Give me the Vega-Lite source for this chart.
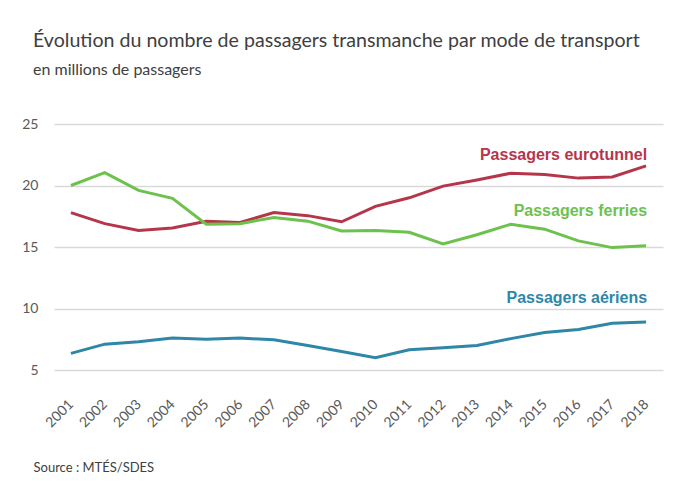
{
  "$schema": "https://vega.github.io/schema/vega-lite/v6.json",
  "width": 609,
  "height": 246,
  "autosize": {"type": "none"},
  "padding": {"top": 124, "left": 54, "right": 10, "bottom": 116},
  "background": "white",
  "title": {
    "text": "Évolution du nombre de passagers transmanche par mode de transport",
    "subtitle": "en millions de passagers",
    "anchor": "start",
    "frame": "group",
    "dx": -21,
    "offset": 38,
    "font": "Lato",
    "fontSize": 19.6,
    "fontWeight": "normal",
    "color": "#404040",
    "subtitleFont": "Lato",
    "subtitleFontSize": 16,
    "subtitleColor": "#404040",
    "subtitlePadding": 10
  },
  "config": {
    "view": {"stroke": null},
    "font": "Lato"
  },
  "data": {
    "values": [
      {"year": "2001", "mode": "eurotunnel", "value": 17.8},
      {"year": "2002", "mode": "eurotunnel", "value": 16.9},
      {"year": "2003", "mode": "eurotunnel", "value": 16.35},
      {"year": "2004", "mode": "eurotunnel", "value": 16.55},
      {"year": "2005", "mode": "eurotunnel", "value": 17.1},
      {"year": "2006", "mode": "eurotunnel", "value": 17.0},
      {"year": "2007", "mode": "eurotunnel", "value": 17.8},
      {"year": "2008", "mode": "eurotunnel", "value": 17.55},
      {"year": "2009", "mode": "eurotunnel", "value": 17.05},
      {"year": "2010", "mode": "eurotunnel", "value": 18.3},
      {"year": "2011", "mode": "eurotunnel", "value": 19.0},
      {"year": "2012", "mode": "eurotunnel", "value": 19.95},
      {"year": "2013", "mode": "eurotunnel", "value": 20.45},
      {"year": "2014", "mode": "eurotunnel", "value": 21.0},
      {"year": "2015", "mode": "eurotunnel", "value": 20.9},
      {"year": "2016", "mode": "eurotunnel", "value": 20.6},
      {"year": "2017", "mode": "eurotunnel", "value": 20.7},
      {"year": "2018", "mode": "eurotunnel", "value": 21.6},
      {"year": "2001", "mode": "ferries", "value": 20.0},
      {"year": "2002", "mode": "ferries", "value": 21.05},
      {"year": "2003", "mode": "ferries", "value": 19.6},
      {"year": "2004", "mode": "ferries", "value": 18.95},
      {"year": "2005", "mode": "ferries", "value": 16.85},
      {"year": "2006", "mode": "ferries", "value": 16.9},
      {"year": "2007", "mode": "ferries", "value": 17.4},
      {"year": "2008", "mode": "ferries", "value": 17.1},
      {"year": "2009", "mode": "ferries", "value": 16.3},
      {"year": "2010", "mode": "ferries", "value": 16.35},
      {"year": "2011", "mode": "ferries", "value": 16.2},
      {"year": "2012", "mode": "ferries", "value": 15.25},
      {"year": "2013", "mode": "ferries", "value": 16.0},
      {"year": "2014", "mode": "ferries", "value": 16.85},
      {"year": "2015", "mode": "ferries", "value": 16.45},
      {"year": "2016", "mode": "ferries", "value": 15.5},
      {"year": "2017", "mode": "ferries", "value": 14.95},
      {"year": "2018", "mode": "ferries", "value": 15.1},
      {"year": "2001", "mode": "aeriens", "value": 6.35},
      {"year": "2002", "mode": "aeriens", "value": 7.1},
      {"year": "2003", "mode": "aeriens", "value": 7.3},
      {"year": "2004", "mode": "aeriens", "value": 7.6},
      {"year": "2005", "mode": "aeriens", "value": 7.5},
      {"year": "2006", "mode": "aeriens", "value": 7.6},
      {"year": "2007", "mode": "aeriens", "value": 7.45},
      {"year": "2008", "mode": "aeriens", "value": 7.0},
      {"year": "2009", "mode": "aeriens", "value": 6.5},
      {"year": "2010", "mode": "aeriens", "value": 6.0},
      {"year": "2011", "mode": "aeriens", "value": 6.65},
      {"year": "2012", "mode": "aeriens", "value": 6.8},
      {"year": "2013", "mode": "aeriens", "value": 7.0},
      {"year": "2014", "mode": "aeriens", "value": 7.55},
      {"year": "2015", "mode": "aeriens", "value": 8.05},
      {"year": "2016", "mode": "aeriens", "value": 8.3},
      {"year": "2017", "mode": "aeriens", "value": 8.8},
      {"year": "2018", "mode": "aeriens", "value": 8.9}
    ]
  },
  "encoding": {
    "x": {
      "field": "year",
      "type": "ordinal",
      "scale": {"type": "point", "padding": 0.5},
      "axis": {
        "title": "Source : MTÉS/SDES",
        "titleFont": "Lato",
        "titleFontSize": 13,
        "titleFontWeight": "normal",
        "titleColor": "#404040",
        "titleAnchor": "start",
        "titleAlign": "left",
        "titleBaseline": "alphabetic",
        "titleX": -21,
        "titleY": 101,
        "labelAngle": -45,
        "labelAlign": "right",
        "labelBaseline": "middle",
        "labelPadding": 32,
        "labelFontSize": 14,
        "labelColor": "#595959",
        "labelFont": "Lato",
        "domain": false,
        "ticks": false,
        "grid": false
      }
    },
    "y": {
      "field": "value",
      "type": "quantitative",
      "scale": {"domain": [5, 25], "nice": false, "zero": false},
      "axis": {
        "title": null,
        "values": [5, 10, 15, 20, 25],
        "domain": false,
        "ticks": false,
        "grid": true,
        "gridColor": "#D9D9D9",
        "gridWidth": 1.5,
        "labelFontSize": 14,
        "labelColor": "#595959",
        "labelFont": "Lato",
        "labelPadding": 16
      }
    }
  },
  "layer": [
    {
      "mark": {"type": "line", "strokeWidth": 3},
      "encoding": {
        "color": {
          "field": "mode",
          "type": "nominal",
          "scale": {"domain": ["eurotunnel", "ferries", "aeriens"], "range": ["#B5364B", "#6DC14D", "#2E87A6"]},
          "legend": null
        }
      }
    },
    {
      "transform": [{"filter": "datum.year == '2018' && datum.mode == 'eurotunnel'"}],
      "mark": {"type": "text", "text": "Passagers eurotunnel", "align": "right", "baseline": "middle", "dx": 1, "dy": -11, "font": "Liberation Sans Narrow, Liberation Sans", "fontSize": 16, "fontWeight": "bold", "color": "#B5364B"}
    },
    {
      "transform": [{"filter": "datum.year == '2018' && datum.mode == 'ferries'"}],
      "mark": {"type": "text", "text": "Passagers ferries", "align": "right", "baseline": "middle", "dx": 1, "dy": -35, "font": "Liberation Sans Narrow, Liberation Sans", "fontSize": 16, "fontWeight": "bold", "color": "#6DC14D"}
    },
    {
      "transform": [{"filter": "datum.year == '2018' && datum.mode == 'aeriens'"}],
      "mark": {"type": "text", "text": "Passagers aériens", "align": "right", "baseline": "middle", "dx": 1, "dy": -24, "font": "Liberation Sans Narrow, Liberation Sans", "fontSize": 16, "fontWeight": "bold", "color": "#2E87A6"}
    }
  ]
}
